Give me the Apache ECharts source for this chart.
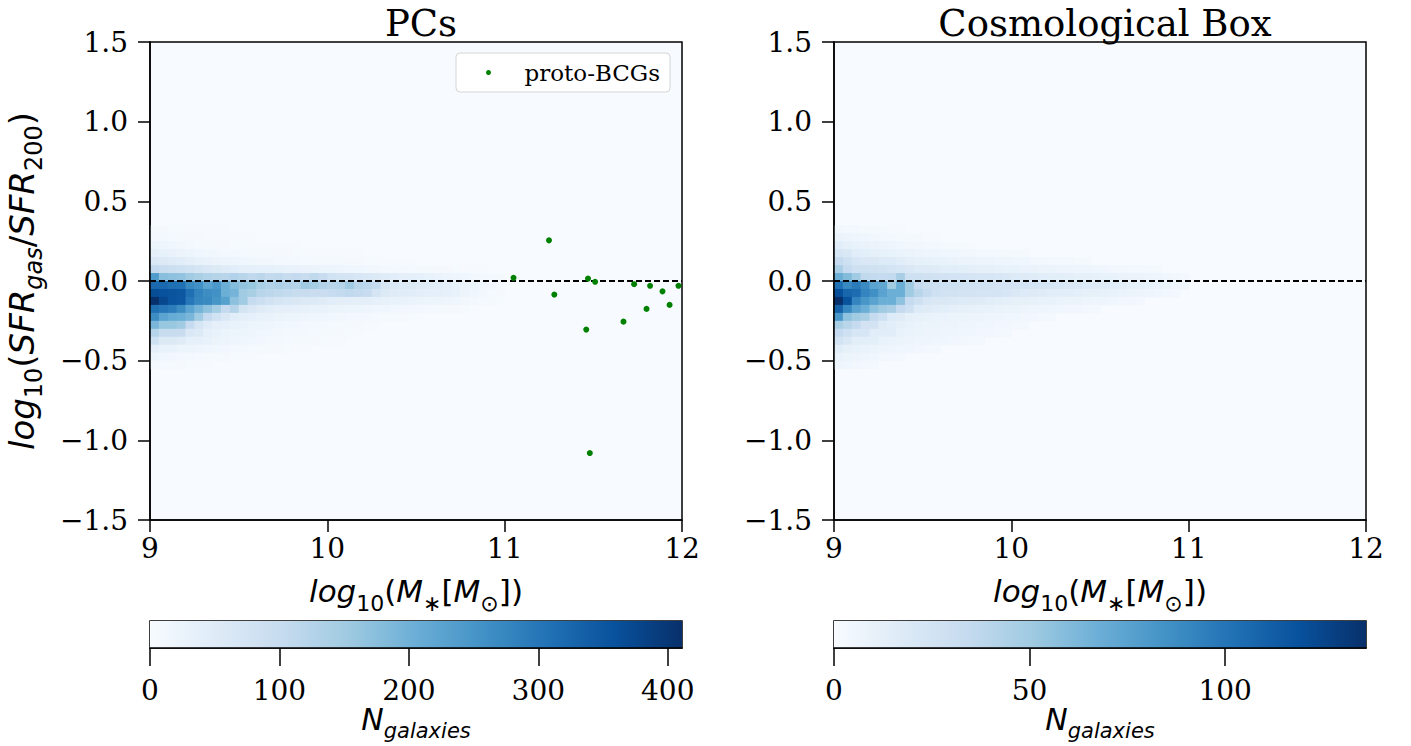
<!DOCTYPE html>
<html>
<head>
<meta charset="utf-8">
<script src="https://cdn.jsdelivr.net/npm/echarts/dist/echarts.min.js"></script>
<style>
  html, body { margin: 0; padding: 0; background: #fff; }
  #chart { width: 1411px; height: 746px; }
</style>
</head>
<body>
<div id="chart"></div>
<script>
// bins of the 2d histograms (lower edges)
var binW = 0.05;
var xStart = 9;
var yEdges = [0.30, 0.25, 0.20, 0.15, 0.10, 0.05, 0.00, -0.05, -0.10, -0.15, -0.20,
              -0.25, -0.30, -0.35, -0.40, -0.45, -0.50, -0.55];

// PCs counts, one row per y bin, starting at x = 9
var pcRows = [
  [6, 5, 4, 4, 3, 3, 2, 2, 2, 1, 1, 1],
  [10, 9, 8, 6, 5, 5, 4, 3, 3, 2, 2, 2, 1, 1, 1],
  [20, 18, 15, 12, 10, 8, 7, 6, 5, 4, 4, 3, 3, 3, 2, 2, 2, 1, 1, 1],
  [38, 32, 28, 24, 20, 16, 14, 12, 10, 9, 8, 7, 6, 6, 5, 5, 4, 4, 3, 3, 3, 2, 2, 2, 1, 1],
  [60, 55, 50, 45, 38, 32, 28, 24, 20, 18, 16, 14, 13, 12, 11, 10, 9, 8, 7, 7, 6, 6, 5, 5, 4, 4, 3, 3, 2, 2],
  [105, 95, 90, 85, 80, 70, 60, 55, 50, 45, 40, 38, 35, 34, 32, 30, 28, 26, 25, 22, 20, 18, 16, 15, 14, 12, 11, 10, 9, 8, 7, 6, 5, 5, 4, 3, 3, 2],
  [240, 175, 170, 165, 150, 140, 130, 125, 120, 130, 120, 110, 115, 105, 110, 100, 105, 95, 110, 95, 80, 75, 70, 65, 60, 55, 50, 45, 40, 38, 35, 30, 26, 22, 18, 15, 12, 10, 8, 6],
  [320, 322, 312, 310, 270, 258, 225, 245, 206, 180, 165, 160, 140, 130, 135, 130, 125, 150, 145, 130, 120, 125, 150, 120, 115, 105, 70, 60, 55, 55, 50, 48, 45, 40, 30, 25, 20, 15, 12, 8],
  [365, 360, 355, 350, 312, 280, 265, 258, 206, 195, 150, 140, 120, 115, 110, 105, 100, 100, 95, 95, 100, 105, 110, 105, 100, 70, 55, 50, 48, 45, 42, 40, 38, 35, 30, 22, 15, 12, 8, 5],
  [411, 375, 355, 350, 300, 275, 270, 250, 230, 170, 150, 103, 90, 80, 70, 65, 60, 55, 55, 50, 45, 42, 40, 40, 38, 35, 32, 30, 28, 26, 24, 22, 20, 18, 15, 12, 10, 8, 6, 4],
  [310, 300, 290, 265, 225, 195, 170, 145, 103, 125, 75, 60, 50, 45, 40, 38, 35, 32, 30, 28, 25, 24, 22, 20, 18, 16, 15, 14, 12, 10, 9, 8, 7, 6, 5, 4],
  [265, 225, 210, 205, 190, 150, 103, 80, 60, 45, 40, 35, 30, 28, 25, 22, 20, 18, 16, 15, 14, 12, 11, 10, 9, 8, 7, 6, 5, 4],
  [190, 160, 160, 150, 103, 70, 50, 40, 35, 30, 26, 22, 20, 18, 16, 14, 12, 11, 10, 9, 8, 7, 6, 5, 4, 3],
  [125, 100, 100, 95, 60, 55, 35, 30, 25, 22, 20, 18, 16, 14, 12, 11, 10, 9, 8, 7, 6, 5, 4, 3],
  [85, 55, 55, 50, 35, 35, 30, 25, 20, 18, 15, 14, 12, 10, 9, 8, 7, 6, 5, 4, 3, 3],
  [40, 30, 30, 20, 20, 18, 15, 14, 12, 10, 9, 8, 7, 6, 5, 4, 3, 3],
  [20, 15, 12, 10, 9, 8, 7, 6, 5, 4, 3, 3],
  [10, 8, 6, 5, 4, 3, 3]
];

// Cosmological box counts, same bins
var boxRows = [
  [4, 3, 3, 2, 2, 2, 1, 1],
  [8, 7, 6, 5, 4, 3, 3, 2, 2, 2, 1, 1],
  [15, 12, 10, 9, 8, 7, 6, 5, 4, 4, 3, 3, 2, 2, 2, 1],
  [22, 20, 15, 14, 12, 11, 10, 9, 8, 7, 6, 6, 5, 5, 4, 4, 3, 3, 3, 2, 2, 2],
  [34, 28, 22, 20, 20, 18, 18, 15, 13, 12, 11, 10, 10, 9, 8, 8, 7, 7, 6, 6, 5, 5, 4, 4, 3, 3, 3, 2, 2],
  [46, 34, 28, 28, 27, 26, 24, 22, 20, 18, 17, 16, 15, 15, 14, 13, 12, 12, 11, 10, 10, 9, 9, 8, 8, 7, 7, 6, 6, 5, 5, 4, 4, 3, 3, 3, 2],
  [68, 60, 50, 36, 35, 34, 35, 46, 28, 28, 27, 26, 25, 24, 24, 23, 22, 22, 21, 20, 18, 17, 16, 15, 14, 14, 13, 12, 12, 11, 10, 10, 9, 8, 8, 7, 6, 5, 4, 3],
  [102, 90, 97, 88, 75, 73, 50, 68, 50, 34, 30, 29, 28, 28, 27, 27, 26, 26, 25, 25, 24, 24, 23, 23, 22, 21, 20, 19, 18, 17, 16, 15, 14, 12, 11, 10, 9, 8, 6, 5],
  [120, 108, 105, 92, 86, 75, 68, 68, 50, 40, 34, 28, 26, 26, 25, 25, 24, 24, 24, 22, 20, 18, 17, 16, 15, 15, 14, 13, 12, 12, 11, 10, 9, 8, 7, 6, 5, 4, 3],
  [136, 118, 92, 82, 75, 68, 68, 56, 34, 28, 22, 20, 20, 19, 18, 17, 16, 15, 14, 13, 12, 12, 11, 10, 10, 9, 8, 8, 7, 6, 6, 5, 4, 4, 3],
  [110, 90, 75, 68, 56, 50, 46, 34, 28, 18, 16, 15, 14, 13, 12, 11, 10, 10, 9, 8, 8, 7, 6, 6, 5, 5, 4, 4, 3, 3],
  [82, 56, 50, 46, 34, 28, 18, 16, 12, 11, 10, 9, 9, 8, 8, 7, 7, 6, 6, 5, 5, 4, 4, 3, 3],
  [46, 40, 34, 25, 25, 16, 14, 12, 10, 9, 8, 8, 7, 7, 6, 6, 5, 5, 4, 4, 3, 3],
  [34, 28, 22, 22, 15, 15, 15, 10, 9, 8, 7, 7, 6, 6, 5, 5, 4, 4, 3, 3],
  [25, 20, 14, 14, 14, 10, 9, 8, 7, 6, 6, 5, 5, 4, 4, 3, 3],
  [15, 12, 10, 9, 8, 7, 6, 5, 5, 4, 3, 3],
  [10, 8, 7, 6, 5, 4, 3, 3],
  [6, 5, 4, 3, 3]
];

// proto-BCGs
var bcgMass = [11.05, 11.25, 11.28, 11.47, 11.51, 11.73, 11.82, 11.89, 11.98, 11.93, 11.80, 11.67, 11.46, 11.48];
var bcgRatio = [0.02, 0.255, -0.085, 0.015, -0.005, -0.02, -0.03, -0.065, -0.03, -0.15, -0.175, -0.255, -0.305, -1.08];

var pcMax = 411;
var boxMax = 136;
var pcBarTicks = [0, 100, 200, 300, 400];
var boxBarTicks = [0, 50, 100];
var refLineX = [9, 12];
var refLineY = 0;

var blues = ['#f7fbff', '#deebf7', '#c6dbef', '#9ecae1', '#6baed6', '#4292c6', '#2171b5', '#08519c', '#08306b'];

function cells(rows) {
  var out = [];
  rows.forEach(function (row, r) {
    row.forEach(function (v, i) {
      if (v > 0) out.push([xStart + i * binW, yEdges[r], v]);
    });
  });
  return out;
}

function renderCell(params, api) {
  var x0 = api.value(0), y0 = api.value(1);
  var a = api.coord([x0, y0 + binW]);
  var b = api.coord([x0 + binW, y0]);
  return {
    type: 'rect',
    shape: { x: a[0], y: a[1], width: b[0] - a[0] + 0.6, height: b[1] - a[1] + 0.6 },
    style: { fill: api.visual('color') }
  };
}

function renderBar(params, api) {
  var a = api.coord([api.value(0), 1]);
  var b = api.coord([api.value(1), 0]);
  var stops = blues.map(function (c, k) { return { offset: k / (blues.length - 1), color: c }; });
  return {
    type: 'rect',
    shape: { x: a[0], y: a[1], width: b[0] - a[0], height: b[1] - a[1] },
    style: { fill: new echarts.graphic.LinearGradient(0, 0, 1, 0, stops) }
  };
}

var serif = 'DejaVu Serif';
var tickFont = { fontFamily: serif, fontSize: 28, color: '#000' };

function mathRich(size, sub, lh) {
  return {
    i: { fontFamily: 'DejaVu Sans', fontStyle: 'italic', fontSize: size, lineHeight: lh, color: '#000' },
    n: { fontFamily: 'DejaVu Sans', fontSize: size, lineHeight: lh, color: '#000' },
    s: { fontFamily: 'DejaVu Sans', fontSize: sub, lineHeight: sub, verticalAlign: 'bottom', color: '#000' },
    si: { fontFamily: 'DejaVu Sans', fontStyle: 'italic', fontSize: sub, lineHeight: sub, verticalAlign: 'bottom', color: '#000' }
  };
}
var blackLine = { onZero: false, lineStyle: { color: '#000', width: 1.5 } };

function fmt(v) {
  return (v < 0 ? '\u2212' : '') + Math.abs(v).toFixed(1);
}

function mainX(gi) {
  return {
    type: 'value', gridIndex: gi, min: 9, max: 12, interval: 1, z: 5,
    axisLine: blackLine, splitLine: { show: false },
    axisTick: { length: 12, lineStyle: { color: '#000', width: 1.5 } },
    axisLabel: Object.assign({ margin: 14 }, tickFont),
    name: '{i|log}{s|10}{n|(}{i|M}{s|\u2217}{n|[}{i|M}{s|\u2299}{n|])}',
    nameLocation: 'middle', nameGap: 48,
    nameTextStyle: { rich: mathRich(31, 22, 46) }
  };
}

function mainY(gi, withName) {
  var ax = {
    type: 'value', gridIndex: gi, min: -1.5, max: 1.5, interval: 0.5, z: 5,
    axisLine: blackLine, splitLine: { show: false },
    axisTick: { length: 12, lineStyle: { color: '#000', width: 1.5 } },
    axisLabel: Object.assign({ margin: 22, formatter: fmt }, tickFont)
  };
  if (withName) {
    ax.name = '{i|log}{s|10}{n|(}{i|SFR}{si|gas}{n|/}{i|SFR}{s|200}{n|)}';
    ax.nameLocation = 'middle';
    ax.nameRotate = 90;
    ax.nameGap = 104;
    ax.nameTextStyle = { rich: mathRich(34, 24, 48) };
  }
  return ax;
}

function barX(gi, max, ticks) {
  return {
    type: 'value', gridIndex: gi, min: 0, max: max, z: 5,
    axisLine: blackLine, splitLine: { show: false },
    axisTick: { length: 18, customValues: ticks, lineStyle: { color: '#000', width: 1.5 } },
    axisLabel: Object.assign({ margin: 28, customValues: ticks }, tickFont),
    name: '{i|N}{si|galaxies}',
    nameLocation: 'middle', nameGap: 41,
    nameTextStyle: { rich: mathRich(30, 21, 44) }
  };
}

function barY(gi) {
  return { type: 'value', gridIndex: gi, min: 0, max: 1, show: false };
}

var frame = { show: true, borderColor: '#000', borderWidth: 1.5 };

var chart = echarts.init(document.getElementById('chart'), null, { renderer: 'svg' });

var option = {
  backgroundColor: '#fff',
  animation: false,
  title: [
    { text: 'PCs', left: 416, top: 0, textAlign: 'center',
      textStyle: { fontFamily: serif, fontSize: 37, fontWeight: 'normal', color: '#000' } },
    { text: 'Cosmological Box', left: 1100, top: 0, textAlign: 'center',
      textStyle: { fontFamily: serif, fontSize: 37, fontWeight: 'normal', color: '#000' } }
  ],
  legend: {
    data: ['proto-BCGs'], left: 456, top: 53, icon: 'circle',
    itemWidth: 62, itemHeight: 5, padding: [8, 10, 8, 30],
    backgroundColor: '#fff', borderColor: '#d5d5d5', borderWidth: 1, borderRadius: 4,
    textStyle: { fontFamily: serif, fontSize: 23, color: '#000' }
  },
  grid: [
    Object.assign({ left: 150, top: 42, width: 532, height: 478, backgroundColor: blues[0] }, frame),
    Object.assign({ left: 834, top: 42, width: 532, height: 478, backgroundColor: blues[0] }, frame),
    Object.assign({ left: 150, top: 621, width: 532, height: 27 }, frame),
    Object.assign({ left: 834, top: 621, width: 532, height: 27 }, frame)
  ],
  xAxis: [mainX(0), mainX(1), barX(2, pcMax, pcBarTicks), barX(3, boxMax, boxBarTicks)],
  yAxis: [mainY(0, true), mainY(1, false), barY(2), barY(3)],
  visualMap: [
    { show: false, seriesIndex: 0, dimension: 2, min: 0, max: pcMax, inRange: { color: blues } },
    { show: false, seriesIndex: 3, dimension: 2, min: 0, max: boxMax, inRange: { color: blues } }
  ],
  series: [
    {
      type: 'custom', xAxisIndex: 0, yAxisIndex: 0, z: 1, silent: true,
      dimensions: ['x', 'y', 'n'], encode: { x: 0, y: 1 },
      renderItem: renderCell, data: cells(pcRows)
    },
    {
      type: 'line', xAxisIndex: 0, yAxisIndex: 0, z: 4, symbol: 'none', silent: true,
      data: refLineX.map(function (x) { return [x, refLineY]; }),
      lineStyle: { color: '#000', width: 1.8, type: [6, 3] }
    },
    {
      name: 'proto-BCGs', type: 'scatter', xAxisIndex: 0, yAxisIndex: 0, z: 6,
      symbolSize: 6, itemStyle: { color: '#008000', opacity: 1 },
      data: bcgMass.map(function (m, k) { return [m, bcgRatio[k]]; })
    },
    {
      type: 'custom', xAxisIndex: 1, yAxisIndex: 1, z: 1, silent: true,
      dimensions: ['x', 'y', 'n'], encode: { x: 0, y: 1 },
      renderItem: renderCell, data: cells(boxRows)
    },
    {
      type: 'line', xAxisIndex: 1, yAxisIndex: 1, z: 4, symbol: 'none', silent: true,
      data: refLineX.map(function (x) { return [x, refLineY]; }),
      lineStyle: { color: '#000', width: 1.8, type: [6, 3] }
    },
    {
      type: 'custom', xAxisIndex: 2, yAxisIndex: 2, z: 1, silent: true,
      renderItem: renderBar, data: [[0, pcMax]]
    },
    {
      type: 'custom', xAxisIndex: 3, yAxisIndex: 3, z: 1, silent: true,
      renderItem: renderBar, data: [[0, boxMax]]
    }
  ]
};

chart.setOption(option);
</script>
</body>
</html>
